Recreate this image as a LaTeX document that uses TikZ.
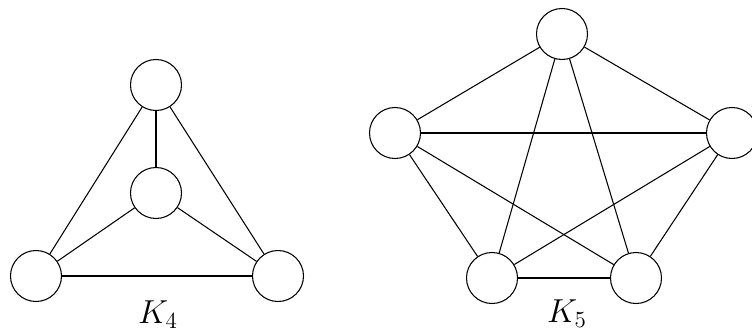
\documentclass[tikz,border=0pt]{standalone}
\begin{document}
\begin{tikzpicture}[x=0.52pt,y=-0.52pt,
  vtx/.style={circle,draw,line width=0.55pt,minimum size=51*0.52pt,inner sep=0pt,fill=white},
  edge/.style={line width=0.55pt},
  lbl/.style={font=\LARGE,inner sep=0pt}]
\useasboundingbox (0,0) rectangle (752,331);
% K4
\node[vtx] (a1) at (156,85) {};
\node[vtx] (a2) at (156,193) {};
\node[vtx] (a3) at (36,276) {};
\node[vtx] (a4) at (278,276) {};
\draw[edge] (a1) -- (a2);
\draw[edge] (a1) -- (a3);
\draw[edge] (a1) -- (a4);
\draw[edge] (a2) -- (a3);
\draw[edge] (a2) -- (a4);
\draw[edge] (a3) -- (a4);
\node[lbl] (l4) at (158,315) {$K_4$};
% K5
\node[vtx] (b1) at (562,34) {};
\node[vtx] (b2) at (395,133) {};
\node[vtx] (b3) at (732,133) {};
\node[vtx] (b4) at (492,278) {};
\node[vtx] (b5) at (636,278) {};
\draw[edge] (b1) -- (b2);
\draw[edge] (b1) -- (b3);
\draw[edge] (b1) -- (b4);
\draw[edge] (b1) -- (b5);
\draw[edge] (b2) -- (b3);
\draw[edge] (b2) -- (b4);
\draw[edge] (b2) -- (b5);
\draw[edge] (b3) -- (b4);
\draw[edge] (b3) -- (b5);
\draw[edge] (b4) -- (b5);
\node[lbl] (l5) at (567,314) {$K_5$};
\end{tikzpicture}
\end{document}
